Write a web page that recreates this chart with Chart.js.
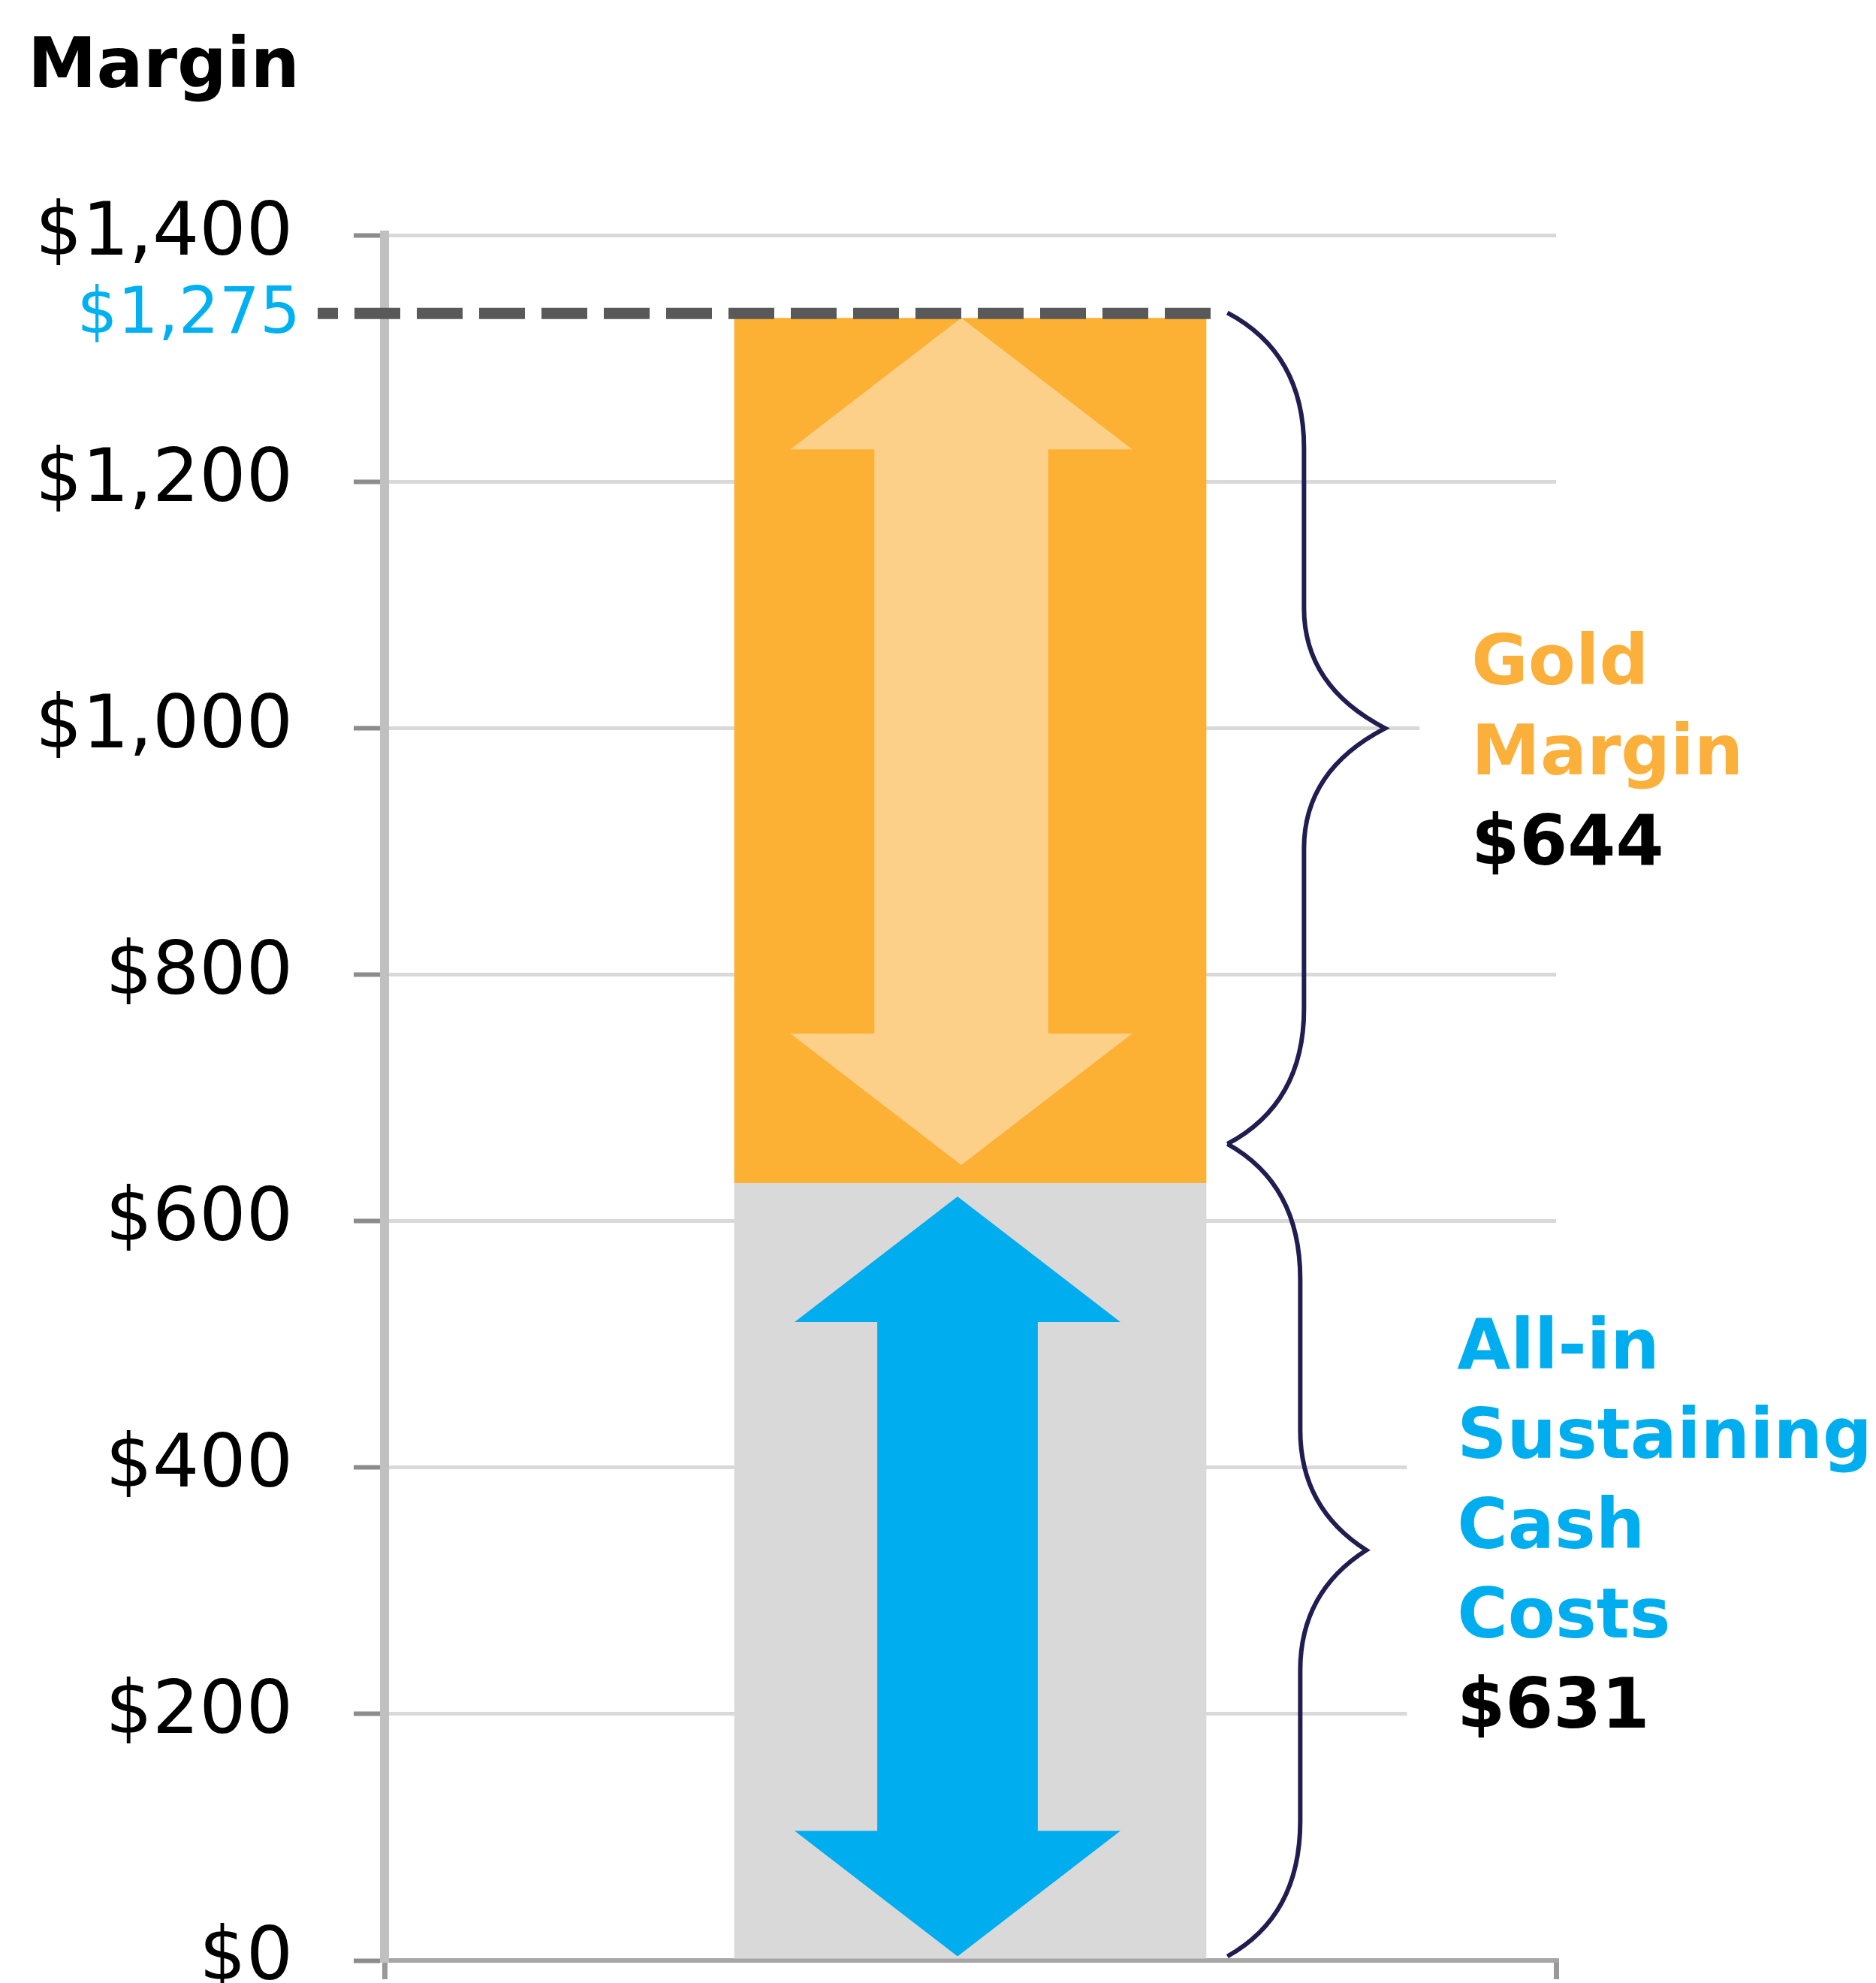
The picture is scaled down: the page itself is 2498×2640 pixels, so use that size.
<!DOCTYPE html>
<html>
<head>
<meta charset="utf-8">
<script src="https://cdn.jsdelivr.net/npm/chart.js@4.4.0/dist/chart.umd.min.js"></script>
<style>
    html, body { margin: 0; padding: 0; background: #fff; }
    canvas { display: block; }
</style>
</head>
<body>
<canvas id="chart" width="2498" height="2640"></canvas>
<script>
// values as drawn in the picture
const categories = ['Gold'];
const costValues = [631];      // grey part, all-in sustaining cash costs
const marginValues = [702];    // orange part stacked on top (bar top sits at ~1333)
const yTicks = [0, 200, 400, 600, 800, 1000, 1200, 1400];
const priceLabel = '$1,275';
const marginText = ['Gold', 'Margin'];
const marginAmount = '$644';
const costText = ['All-in', 'Sustaining', 'Cash', 'Costs'];
const costAmount = '$631';

const BOLD = 'bold 92px "DejaVu Sans"';

function doubleArrow(ctx, cx, top, bottom, headH, headW, shaftW, color) {
    ctx.beginPath();
    ctx.moveTo(cx, top);
    ctx.lineTo(cx + headW, top + headH);
    ctx.lineTo(cx + shaftW, top + headH);
    ctx.lineTo(cx + shaftW, bottom - headH);
    ctx.lineTo(cx + headW, bottom - headH);
    ctx.lineTo(cx, bottom);
    ctx.lineTo(cx - headW, bottom - headH);
    ctx.lineTo(cx - shaftW, bottom - headH);
    ctx.lineTo(cx - shaftW, top + headH);
    ctx.lineTo(cx - headW, top + headH);
    ctx.closePath();
    ctx.fillStyle = color;
    ctx.fill();
}

function brace(ctx, x0, top, bottom, dx, tipDx) {
    const mid = (top + bottom) / 2, xv = x0 + dx, xt = xv + tipDx;
    const r1 = 180, r2 = 160;
    ctx.beginPath();
    ctx.moveTo(x0, top);
    ctx.quadraticCurveTo(xv, top + r1 * 0.3, xv, top + r1);
    ctx.lineTo(xv, mid - r2);
    ctx.quadraticCurveTo(xv, mid - r2 * 0.35, xt, mid);
    ctx.quadraticCurveTo(xv, mid + r2 * 0.35, xv, mid + r2);
    ctx.lineTo(xv, bottom - r1);
    ctx.quadraticCurveTo(xv, bottom - r1 * 0.3, x0, bottom);
    ctx.stroke();
    return {x: xt, y: mid};
}

// where the braces and the side texts go, worked out from the bars
function layoutNotes(chart) {
    const cost = chart.getDatasetMeta(0).data[0];
    const margin = chart.getDatasetMeta(1).data[0];
    const right = cost.x + cost.width / 2;
    const join = margin.base - 52;
    return {
        cost, margin, right,
        upper: {x0: right + 28, top: margin.y - 7, bottom: join, dx: 102, tipDx: 108},
        lower: {x0: right + 28, top: join, bottom: cost.base - 3, dx: 97, tipDx: 88}
    };
}

const notes = {
    id: 'notes',
    beforeDatasetsDraw(chart) {
        // white boxes behind the side texts hide the grid lines there
        const {ctx} = chart;
        const n = layoutNotes(chart);
        const upMid = (n.upper.top + n.upper.bottom) / 2;
        const lowMid = (n.lower.top + n.lower.bottom) / 2;
        ctx.save();
        ctx.fillStyle = '#fff';
        const gx = n.upper.x0 + n.upper.dx + n.upper.tipDx + 46;
        ctx.fillRect(gx, upMid - 140, chart.width - gx, 370);
        const bx = n.lower.x0 + n.lower.dx + n.lower.tipDx + 54;
        ctx.fillRect(bx, lowMid - 322, chart.width - bx, 610);
        ctx.restore();
    },
    afterDatasetsDraw(chart) {
        const {ctx} = chart;
        const n = layoutNotes(chart);
        const c = n.cost, m = n.margin;
        ctx.save();

        doubleArrow(ctx, m.x - 12, m.y, m.base - 24, 175, m.width * 0.362, m.width * 0.184, '#fdd08a');
        doubleArrow(ctx, c.x - 17, c.y + 18, c.base - 3, 167, c.width * 0.345, c.width * 0.170, '#00adef');

        // dashed price line
        ctx.strokeStyle = '#595959';
        ctx.lineWidth = 15;
        ctx.setLineDash([61, 22]);
        ctx.lineDashOffset = 34;
        ctx.beginPath();
        ctx.moveTo(423, m.y - 6);
        ctx.lineTo(n.right + 8, m.y - 6);
        ctx.stroke();
        ctx.setLineDash([]);

        ctx.fillStyle = '#00b0f0';
        ctx.font = '85px "DejaVu Sans"';
        ctx.textAlign = 'right';
        ctx.textBaseline = 'middle';
        ctx.fillText(priceLabel, 400, m.y - 2);

        // braces
        ctx.strokeStyle = '#201d50';
        ctx.lineWidth = 6;
        const up = brace(ctx, n.upper.x0, n.upper.top, n.upper.bottom, n.upper.dx, n.upper.tipDx);
        const low = brace(ctx, n.lower.x0, n.lower.top, n.lower.bottom, n.lower.dx, n.lower.tipDx);

        ctx.font = BOLD;
        ctx.textAlign = 'left';
        ctx.textBaseline = 'alphabetic';
        let yy = up.y - 59;
        ctx.fillStyle = '#fcb03c';
        marginText.forEach(t => { ctx.fillText(t, up.x + 115, yy); yy += 120; });
        ctx.fillStyle = '#000';
        ctx.fillText(marginAmount, up.x + 115, yy);

        yy = low.y - 242;
        ctx.fillStyle = '#00aeef';
        costText.forEach(t => { ctx.fillText(t, low.x + 121, yy); yy += 119.5; });
        ctx.fillStyle = '#000';
        ctx.fillText(costAmount, low.x + 121, yy);

        ctx.restore();
    }
};

new Chart(document.getElementById('chart'), {
    type: 'bar',
    data: {
        labels: categories,
        datasets: [
            {label: 'All-in Sustaining Cash Costs', data: costValues, backgroundColor: '#d9d9d9'},
            {label: 'Gold Margin', data: marginValues, backgroundColor: '#fcb034'}
        ]
    },
    options: {
        responsive: false,
        animation: false,
        devicePixelRatio: 1,
        categoryPercentage: 1,
        barPercentage: 0.403,
        layout: {padding: {left: 37, right: 426, top: 0, bottom: 30}},
        plugins: {
            legend: {display: false},
            tooltip: {enabled: false},
            title: {
                display: true,
                text: 'Margin',
                align: 'start',
                color: '#000',
                font: {family: 'DejaVu Sans', size: 92, weight: 'bold', lineHeight: 1.2},
                padding: {top: 37, bottom: 166}
            }
        },
        scales: {
            x: {
                stacked: true,
                ticks: {display: false},
                grid: {display: true, drawOnChartArea: false, drawTicks: true, tickLength: 25, color: '#999999', lineWidth: 7},
                border: {display: true, color: '#a6a6a6', width: 6},
                afterFit(scale) {
                    scale.height = 0;
                    scale.paddingLeft = 0;
                    scale.paddingRight = 0;
                }
            },
            y: {
                stacked: true,
                min: 0,
                max: 1400,
                afterBuildTicks(scale) {
                    scale.ticks = yTicks.map(v => ({value: v}));
                },
                ticks: {
                    color: '#000',
                    padding: 81,
                    font: {family: 'DejaVu Sans', size: 98, lineHeight: 1},
                    callback: v => '$' + v.toLocaleString('en-US')
                },
                grid: {color: '#d9d9d9', lineWidth: 5, tickLength: 41, tickColor: '#8c8c8c', tickWidth: 6},
                border: {display: true, color: '#c0c0c0', width: 12},
                afterFit(scale) {
                    scale.width = 475;
                    scale.paddingTop = 0;
                    scale.paddingBottom = 0;
                }
            }
        }
    },
    plugins: [notes]
});
</script>
</body>
</html>
